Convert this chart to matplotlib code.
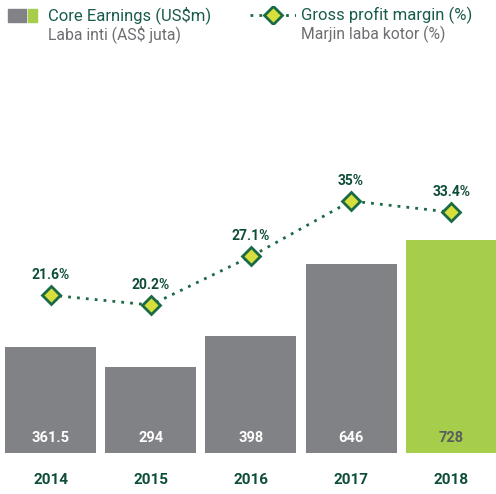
import matplotlib.pyplot as plt

plt.rcParams['font.family'] = ['Roboto', 'DejaVu Sans']

years = ['2014', '2015', '2016', '2017', '2018']
core_earnings = [361.5, 294, 398, 646, 728]
earnings_labels = ['361.5', '294', '398', '646', '728']
margin = [21.6, 20.2, 27.1, 35, 33.4]
margin_labels = ['21.6%', '20.2%', '27.1%', '35%', '33.4%']

gray = '#818285'
lime = '#a6ce4a'
dark_green = '#0f4d3b'
line_green = '#1a6b45'
marker_fill = '#d8df3c'
sub_gray = '#6d6e71'

W, H = 496, 494
fig = plt.figure(figsize=(W / 100, H / 100), dpi=100)

# axes placed in pixel terms: bottom at y=453, top at y=60
bottom_px, top_px = 453, 60
ax = fig.add_axes([0, (H - bottom_px) / H, 1, (bottom_px - top_px) / H])
ax.set_xlim(-0.504, 4.446)
ax.set_ylim(0, (bottom_px - top_px) / 0.293)

x = list(range(len(years)))
colors = [gray] * 4 + [lime]
ax.bar(x, core_earnings, width=0.91, color=colors, zorder=1)

for i, lab in enumerate(earnings_labels):
    c = 'white' if i < 4 else '#5b5c5e'
    ax.text(i, 15 / 0.293, lab, ha='center', va='center', fontsize=10.5,
            fontweight='bold', color=c)
    ax.text(i, -27 / 0.293, years[i], ha='center', va='center', fontsize=11,
            fontweight='bold', color=dark_green, clip_on=False)

ax.axis('off')

ax2 = ax.twinx()
ax2.set_ylim(-6 / 7.03, (bottom_px - top_px - 6) / 7.03)
ax2.plot(x, margin, linestyle=(0, (1, 2.2)), color=line_green, linewidth=2,
         marker='D', markersize=9.5, markerfacecolor=marker_fill,
         markeredgecolor=line_green, markeredgewidth=2, zorder=3)
for i, lab in enumerate(margin_labels):
    ax2.text(i, margin[i] + 20 / 7.03, lab, ha='center', va='center',
             fontsize=10, fontweight='bold', color=dark_green)
ax2.axis('off')

# legend drawn by hand at the top
fig.patches.append(plt.Rectangle((8 / W, 1 - 22 / H), 18 / W, 13 / H,
                                 transform=fig.transFigure, color=gray))
fig.patches.append(plt.Rectangle((28 / W, 1 - 22 / H), 9 / W, 13 / H,
                                 transform=fig.transFigure, color=lime))
fig.text(48 / W, 1 - 15 / H, 'Core Earnings (US$m)', fontsize=12,
         color='#1a5c4c', va='center')
fig.text(48 / W, 1 - 34 / H, 'Laba inti (AS$ juta)', fontsize=11.3,
         color=sub_gray, va='center')

leg = fig.add_axes([250 / W, 1 - 24 / H, 46 / W, 18 / H])
leg.plot([0, 1], [0, 0], linestyle=(0, (1, 2.2)), color=line_green, linewidth=2)
leg.plot([0.5], [0], marker='D', markersize=9.5, markerfacecolor=marker_fill,
         markeredgecolor=line_green, markeredgewidth=2)
leg.set_xlim(0, 1)
leg.set_ylim(-1, 1)
leg.axis('off')
fig.text(301 / W, 1 - 15 / H, 'Gross profit margin (%)', fontsize=12,
         color='#1a5c4c', va='center')
fig.text(301 / W, 1 - 34 / H, 'Marjin laba kotor (%)', fontsize=11.3,
         color=sub_gray, va='center')

fig.savefig('out.png', dpi=100)
